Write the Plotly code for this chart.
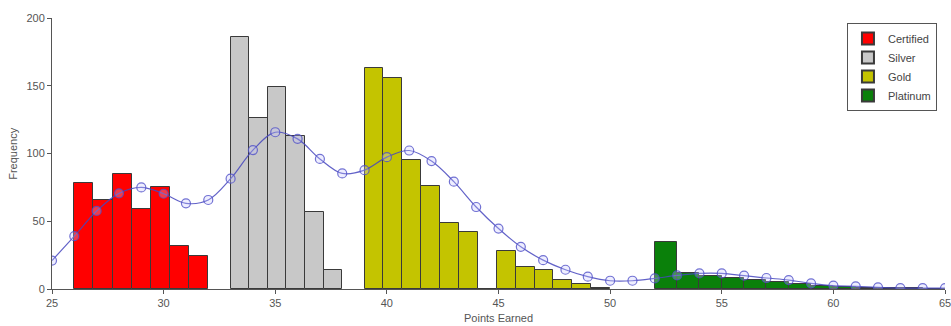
import numpy as np
import plotly.graph_objects as go

# ---- data ----
groups = ["Certified", "Silver", "Gold", "Platinum"]
colors = ["#ff0000", "#c8c8c8", "#c4c400", "#0a800a"]

# bin ranges (start, end) for each group's histogram
certified_range = (26, 32)
silver_range = (33, 38)
gold_range = (39, 50)
platinum_range = (52, 65)

certified_counts = [78, 66, 85, 59, 75, 32, 24]
silver_counts = [186, 126, 149, 113, 57, 14]
gold_counts = [163, 156, 95, 76, 49, 42, 0, 28, 16, 14, 7, 4, 1]
platinum_counts = [35, 12, 9.5, 8, 6.5, 5.5, 4, 2.5, 1.5, 1, 0.6, 0.4, 0.2]

fit_x = list(range(25, 66))
fit_y = [21, 39, 57.6, 70.6, 75, 70.3, 63.2, 65.7, 81.4, 102.5, 115.7, 110.8,
         96, 85.3, 87.7, 97.3, 102.2, 94.4, 79.2, 60.5, 44.6, 31.1, 21.3, 14.2,
         9.1, 6.1, 6.1, 7.8, 10, 11.5, 11.5, 9.8, 8.1, 6.6, 4.2, 2.5, 2, 1.2,
         0.7, 0.7, 0.7]

x_ticks = [25, 30, 35, 40, 45, 50, 55, 60, 65]
y_ticks = [0, 50, 100, 150, 200]

ranges = [certified_range, silver_range, gold_range, platinum_range]
counts = [certified_counts, silver_counts, gold_counts, platinum_counts]

fig = go.Figure()
for name, col, (a, b), cnt in zip(groups, colors, ranges, counts):
    n = len(cnt)
    edges = np.linspace(a, b, n + 1)
    centers = (edges[:-1] + edges[1:]) / 2
    w = edges[1] - edges[0]
    fig.add_trace(go.Bar(
        x=centers, y=cnt, width=[w] * n, name=name,
        marker=dict(color=col, line=dict(color="#3a3a3a", width=1)),
    ))

fig.add_trace(go.Scatter(
    x=fit_x, y=fit_y, mode="lines+markers", line_shape="spline",
    line=dict(color="rgba(70,70,190,0.85)", width=1.2),
    marker=dict(symbol="circle", size=9,
                color="rgba(200,200,255,0.3)",
                line=dict(color="rgba(80,80,200,0.8)", width=1.2)),
    showlegend=False,
))

fnt = "Liberation Sans, Arial, sans-serif"
fig.update_layout(
    width=951, height=326,
    margin=dict(l=52, r=6, t=18, b=37, autoexpand=False),
    paper_bgcolor="white", plot_bgcolor="white",
    barmode="overlay", bargap=0,
    font=dict(family=fnt, size=11, color="#555"),
    showlegend=True,
    legend=dict(
        x=0.991, y=0.982, xanchor="right", yanchor="top",
        bgcolor="white", bordercolor="#555", borderwidth=1,
        font=dict(family=fnt, size=11, color="#444"),
        tracegroupgap=0, itemsizing="constant",
    ),
    xaxis=dict(
        range=[25, 65], tickvals=x_ticks, ticks="outside", ticklen=4,
        tickcolor="#555", showline=True, linecolor="#555", linewidth=1,
        showgrid=False, zeroline=False, automargin=False,
        ticklabeloverflow="allow",
    ),
    yaxis=dict(
        range=[0, 200], tickvals=y_ticks, ticks="outside", ticklen=4,
        tickcolor="#555", showline=True, linecolor="#555", linewidth=1,
        showgrid=False, zeroline=False, automargin=False,
        ticklabeloverflow="allow",
    ),
    annotations=[
        dict(text="Points Earned", xref="paper", yref="paper", x=0.5, y=-0.078,
             xanchor="center", yanchor="top", showarrow=False,
             font=dict(family=fnt, size=11, color="#555")),
        dict(text="Frequency", xref="paper", yref="paper", x=-0.0445, y=0.5,
             xanchor="center", yanchor="middle", textangle=-90, showarrow=False,
             font=dict(family=fnt, size=11, color="#555")),
    ],
)

fig.write_html(
    "out.html",
    config={"displayModeBar": False},
    post_script="document.body.style.margin='0';document.body.style.overflow='hidden';",
)
